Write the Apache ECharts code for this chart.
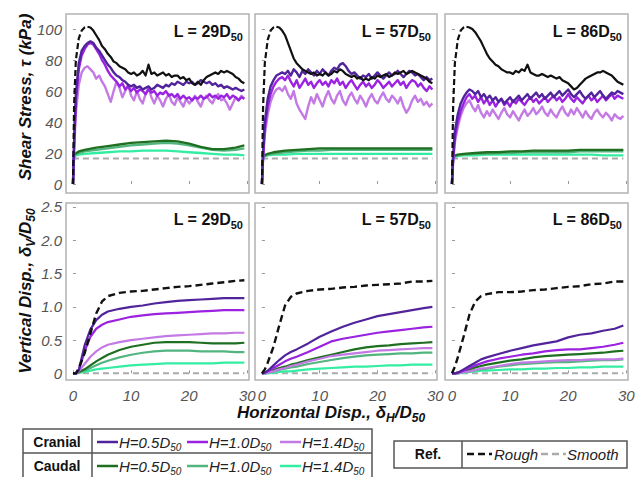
<!DOCTYPE html>
<html>
<head>
<meta charset="utf-8">
<script src="https://cdn.jsdelivr.net/npm/echarts@6/dist/echarts.min.js"></script>
<style>
  html, body { margin: 0; padding: 0; background: #fff; }
  #chart { width: 641px; height: 477px; }
</style>
</head>
<body>
<div id="chart"></div>
<script>
// ---------- Shear stress (kPa) vs horizontal displacement ----------
const xTop = [0,0.2,0.5,1,1.5,2,2.5,3,3.5,4,4.5,5,5.5,6,6.5,7,7.5,8,8.5,9,9.5,10,10.5,11,11.5,12,12.5,13,13.5,14,14.5,15,15.5,16,16.5,17,17.5,18,18.5,19,19.5,20,20.5,21,21.5,22,22.5,23,23.5,24,24.5,25,25.5,26,26.5,27,27.5,28,28.5,29,29.5];

// L = 29 D50
const roughTau29 = [0,52,80,94,99,101,101.5, 101,99,96,93,89,87,84,82,79,78,76,75,74,72,71, 72,70,71,73,70,77,71,72,70,71, 72,70,71,69,70,70,68,69,67,68, 65,64,66,64,67,69,70,71,72,71, 73,72,73,72,71,69,68,66,65];
const cran05Tau29 = [0,28,58,78,86,89,91, 92,91,88,86,83,80,77,75,72,70,69,67,66,64,63, 64,62,63,61,62,63,61,62,64,63, 62,64,63,65,64,66,65,64,66,65, 66,64,65,67,66,65,66,64,65,63, 64,62,63,62,61,62,61,60,61];
const cran10Tau29 = [0,25,54,74,83,87,90, 91,90,87,84,80,77,73,70,68,66,63,65,61,63,60, 62,59,61,60,58,61,59,60,57,59, 58,60,57,58,56,58,55,57,55,56, 54,56,55,57,55,56,58,56,57,55, 57,56,58,55,57,56,54,56,55];
const cran14Tau29 = [0,22,46,64,72,75,76, 74,72,68,70,66,63,58,53,60,66,62,56,60,64,57, 54,60,55,52,58,62,56,52,57,54, 50,55,58,53,51,56,53,50,55,52, 54,57,53,50,55,57,54,52,56,58, 54,55,52,48,52,56,54,57,55];

// L = 57 D50
const roughTau57 = [0,50,78,93,99,101,101.5, 101,99,96,91,86,81,78,76,74,73,72,71,72,70,71, 70,72,70,71,73,72,74,73,71,70, 69,70,68,69,67,68,67,69,68,70, 69,70,71,69,70,72,71,72,73,71, 72,73,72,71,70,69,68,66,65];
const cran05Tau57 = [0,20,40,55,63,67,70, 71,72,71,73,70,74,72,69,73,71,74,72,70,73,71, 74,72,70,73,75,74,77,78,76,73, 71,72,70,68,70,69,71,68,70,72, 70,68,70,72,70,71,73,71,69,71, 73,72,70,71,69,67,69,67,68];
const cran10Tau57 = [0,18,36,50,58,63,66, 68,69,67,70,66,63,67,62,65,68,64,66,62,65,67, 64,66,63,67,65,68,64,66,62,65, 67,64,61,64,66,63,65,62,64,67, 65,62,64,66,63,65,67,64,66,62, 65,67,66,63,65,62,60,63,61];
const cran14Tau57 = [0,16,32,45,53,58,61, 62,60,63,58,55,60,52,48,45,42,50,56,52,58,54, 50,56,60,55,52,57,60,54,51,56, 59,55,52,57,54,50,55,58,54,52, 56,59,55,53,57,55,52,56,50,46, 49,54,57,53,55,51,53,50,52];

// L = 86 D50
const roughTau86 = [0,50,78,93,99,101,101.5, 101,100,98,95,92,88,84,81,79,77,76,74,73,72,72, 71,73,72,74,73,77,72,71,70,70, 71,70,69,70,69,68,69,67,66,65, 63,61,62,64,66,68,69,70,71,72, 72,73,72,71,70,68,66,65,64];
const cran05Tau86 = [0,18,34,45,52,56,59, 61,60,58,60,56,58,55,57,54,56,53,55,52,54,56, 53,55,57,54,56,58,55,57,59,56, 58,55,57,59,56,58,60,57,59,61, 58,56,58,60,57,55,57,59,56,58, 60,57,55,57,59,58,60,59,58];
const cran10Tau86 = [0,16,30,40,47,52,56, 58,55,57,53,56,52,55,51,54,50,53,55,51,53,50, 54,52,55,53,51,54,56,53,55,52, 54,56,53,55,57,54,56,53,55,58, 55,53,56,54,52,55,57,54,56,53, 55,57,54,56,58,55,57,56,55];
const cran14Tau86 = [0,14,27,37,44,49,52, 54,50,47,51,46,43,47,44,48,45,42,46,49,45,43, 47,44,41,45,48,44,46,49,45,47, 50,46,44,48,45,43,47,50,46,44, 48,45,49,46,43,47,44,42,46,48, 45,43,46,44,41,45,43,42,44];

// caudal (smoother) stress curves
const xCaudal = [0,0.2,1,2,4,6,8,10,12,14,16,18,20,22,24,26,28,29.5];
const caud05Tau29 = [0,19,21,22,23.5,24.5,25.5,26.5,27,27.5,28,27.5,26,24,22.5,22.5,23.5,25];
const caud10Tau29 = [0,19,20,21,22,23,24,25,25.5,26,26.5,26,25,23.5,22,21.5,22,23];
const caud14Tau29 = [0,18,19,19.5,20,20.5,21,21,21.5,21.5,21.5,21,20.5,20,19.5,19,19,18.5];
const caud05Tau57 = [0,18,19.5,20.5,21.5,22,22.5,23,23,23,23,23,23,23,23,23,23,23];
const caud10Tau57 = [0,18,19,19.5,20.5,21,21.5,21.5,22,22,22,22,22,22,22,22,22,22];
const caud14Tau57 = [0,17.5,18.5,19,19,19.5,19.5,19.5,19.5,19.5,19.5,19.5,19.5,19.5,19.5,19.5,19.5,19.5];
const caud05Tau86 = [0,18,19,19.5,20,20.5,20.5,21,21,21.5,21.5,21.5,21.5,22,22,22,22,22];
const caud10Tau86 = [0,17.5,18.5,19,19.5,19.5,20,20,20.5,20.5,20.5,20.5,20.5,21,21,21,21,21];
const caud14Tau86 = [0,17,18,18.5,18.5,19,19,19,19,19,19,19,19,19,19,18.5,18.5,18.5];

const xSmooth = [0, 29.5];
const smoothTau = [16.5, 16.5];

// ---------- Vertical displacement (δV/D50) ----------
const xBot = [0,0.5,1,2,3,4,5,6,8,10,12,14,16,18,20,22,24,26,28,29.5];
const roughV29  = [0,0,0.08,0.3,0.6,0.9,1.08,1.16,1.21,1.23,1.24,1.26,1.28,1.3,1.31,1.33,1.35,1.37,1.39,1.4];
const cran05V29 = [0,0,0.05,0.42,0.66,0.8,0.88,0.93,0.97,1.0,1.02,1.05,1.07,1.09,1.1,1.11,1.12,1.13,1.13,1.13];
const cran10V29 = [0,0,0.04,0.33,0.55,0.67,0.73,0.77,0.81,0.85,0.87,0.89,0.9,0.91,0.92,0.93,0.94,0.95,0.95,0.95];
const cran14V29 = [0,0,0.03,0.14,0.25,0.33,0.39,0.43,0.47,0.5,0.52,0.54,0.56,0.57,0.58,0.59,0.6,0.6,0.61,0.61];
const caud05V29 = [0,0,0.02,0.06,0.12,0.18,0.23,0.28,0.35,0.4,0.43,0.46,0.47,0.47,0.47,0.46,0.45,0.45,0.45,0.46];
const caud10V29 = [0,0,0.01,0.04,0.08,0.12,0.16,0.19,0.24,0.28,0.31,0.33,0.34,0.34,0.34,0.33,0.33,0.33,0.32,0.32];
const caud14V29 = [0,0,0.01,0.02,0.04,0.06,0.07,0.08,0.1,0.12,0.13,0.14,0.15,0.15,0.15,0.15,0.15,0.16,0.16,0.16];

const roughV57  = [0,0.06,0.16,0.4,0.72,1.02,1.15,1.2,1.24,1.26,1.27,1.29,1.3,1.32,1.33,1.34,1.35,1.38,1.38,1.39];
const cran05V57 = [0,0.01,0.04,0.12,0.2,0.27,0.32,0.36,0.45,0.55,0.63,0.7,0.76,0.81,0.86,0.89,0.92,0.95,0.98,1.0];
const cran10V57 = [0,0.01,0.03,0.08,0.13,0.18,0.22,0.25,0.32,0.4,0.48,0.52,0.55,0.58,0.61,0.63,0.65,0.67,0.69,0.7];
const cran14V57 = [0,0,0.01,0.03,0.06,0.08,0.11,0.13,0.18,0.22,0.26,0.28,0.3,0.32,0.34,0.35,0.36,0.37,0.38,0.38];
const caud05V57 = [0,0.01,0.02,0.05,0.08,0.1,0.13,0.15,0.2,0.24,0.28,0.32,0.36,0.39,0.41,0.42,0.44,0.45,0.46,0.47];
const caud10V57 = [0,0,0.01,0.03,0.05,0.07,0.09,0.1,0.14,0.17,0.2,0.23,0.25,0.27,0.28,0.29,0.3,0.3,0.31,0.31];
const caud14V57 = [0,0,0,0.01,0.02,0.03,0.03,0.04,0.06,0.07,0.08,0.09,0.1,0.1,0.11,0.12,0.12,0.13,0.13,0.13];

const roughV86  = [0,0.1,0.24,0.55,0.88,1.08,1.16,1.19,1.22,1.22,1.23,1.25,1.26,1.28,1.3,1.31,1.34,1.35,1.38,1.38];
const cran05V86 = [0,0,0.01,0.06,0.11,0.16,0.21,0.24,0.29,0.34,0.38,0.42,0.45,0.48,0.54,0.58,0.6,0.64,0.67,0.72];
const cran10V86 = [0,0,0.01,0.04,0.08,0.12,0.15,0.18,0.22,0.25,0.28,0.3,0.33,0.35,0.36,0.36,0.38,0.4,0.43,0.46];
const cran14V86 = [0,0,0,0.02,0.03,0.05,0.07,0.08,0.11,0.14,0.16,0.17,0.18,0.19,0.2,0.2,0.21,0.21,0.21,0.22];
const caud05V86 = [0,0,0.01,0.03,0.06,0.09,0.11,0.13,0.16,0.19,0.21,0.24,0.26,0.27,0.28,0.29,0.3,0.31,0.33,0.34];
const caud10V86 = [0,0,0,0.02,0.03,0.05,0.06,0.07,0.1,0.12,0.14,0.15,0.16,0.17,0.17,0.18,0.19,0.2,0.2,0.21];
const caud14V86 = [0,0,0,0.01,0.02,0.03,0.04,0.04,0.05,0.06,0.06,0.07,0.07,0.08,0.08,0.09,0.09,0.1,0.1,0.1];
const smoothV = [0, 0];

// ---------- labels and ticks ----------
const panelLabels = ['29', '57', '86'];
const xTicks = [0, 10, 20, 30];
const tauTicks = [0, 20, 40, 60, 80, 100];
const vTicks = [0, 0.5, 1, 1.5, 2, 2.5];

// ---------- styling ----------
const FONT = '"Liberation Sans", Arial, Helvetica, sans-serif';
const C = {
  c05: '#52249b', c10: '#9b22e0', c14: '#c47ae4',
  d05: '#1f6f20', d10: '#52b47f', d14: '#33eda3',
  rough: '#111111', smooth: '#aaaaaa'
};

const boxes = [
  { left: 66,  top: 14,  width: 183, height: 179 },
  { left: 255, top: 14,  width: 182, height: 179 },
  { left: 445, top: 14,  width: 183, height: 179 },
  { left: 66,  top: 203, width: 183, height: 177 },
  { left: 255, top: 203, width: 182, height: 177 },
  { left: 445, top: 203, width: 183, height: 177 }
];

const grids = boxes.map(b => ({
  left: b.left, top: b.top, width: b.width, height: b.height,
  show: true, borderColor: '#b3b3b3', borderWidth: 1.5, backgroundColor: 'transparent'
}));

const tickLabel = { fontFamily: FONT, fontStyle: 'italic', fontSize: 15, color: '#555' };

const xAxes = boxes.map((b, i) => ({
  gridIndex: i, type: 'value', min: -1.2, max: 30.3,
  axisLine: { show: false }, splitLine: { show: false },
  axisTick: { show: true, inside: true, length: 3, customValues: xTicks, lineStyle: { color: '#999' } },
  axisLabel: Object.assign({ show: i >= 3, customValues: xTicks, margin: 8 }, tickLabel)
}));

const yAxes = boxes.map((b, i) => {
  const top = i < 3;
  return {
    gridIndex: i, type: 'value',
    min: top ? -5.8 : -0.1, max: top ? 109.7 : 2.56,
    axisLine: { show: false }, splitLine: { show: false },
    axisTick: { show: true, inside: true, length: 3, customValues: top ? tauTicks : vTicks, lineStyle: { color: '#999' } },
    axisLabel: Object.assign({
      show: i === 0 || i === 3, customValues: top ? tauTicks : vTicks, margin: 4,
      formatter: v => top ? String(v) : (v === 0 ? '0' : v.toFixed(1))
    }, tickLabel)
  };
});

function line(g, xs, ys, color, width, dash) {
  const n = Math.min(xs.length, ys.length);
  const data = [];
  for (let k = 0; k < n; k++) data.push([xs[k], ys[k]]);
  return {
    type: 'line', xAxisIndex: g, yAxisIndex: g, data,
    showSymbol: false, symbol: 'none', silent: true, animation: false,
    lineStyle: { color, width, type: dash || 'solid', cap: 'butt', join: 'round' },
    itemStyle: { color }
  };
}

const series = [];
function stressPanel(g, rough, c05, c10, c14, d05, d10, d14) {
  series.push(line(g, xSmooth, smoothTau, C.smooth, 2, [6, 4]));
  series.push(line(g, xCaudal, d14, C.d14, 2.3));
  series.push(line(g, xCaudal, d10, C.d10, 2.3));
  series.push(line(g, xCaudal, d05, C.d05, 2.3));
  series.push(line(g, xTop, c14, C.c14, 2.4));
  series.push(line(g, xTop, c10, C.c10, 2.4));
  series.push(line(g, xTop, c05, C.c05, 2.4));
  // rough reference: dashed rise to the peak, then the measured trace
  series.push(line(g, xTop.slice(0, 7), rough.slice(0, 7), C.rough, 2.2, [6, 3]));
  series.push(line(g, xTop.slice(6), rough.slice(6), C.rough, 2.2));
}
function dispPanel(g, rough, c05, c10, c14, d05, d10, d14) {
  series.push(line(g, xSmooth, smoothV, C.smooth, 2, [6, 4]));
  series.push(line(g, xBot, d14, C.d14, 2.2));
  series.push(line(g, xBot, d10, C.d10, 2.2));
  series.push(line(g, xBot, d05, C.d05, 2.2));
  series.push(line(g, xBot, c14, C.c14, 2.2));
  series.push(line(g, xBot, c10, C.c10, 2.2));
  series.push(line(g, xBot, c05, C.c05, 2.2));
  series.push(line(g, xBot, rough, C.rough, 2.4, [7, 4]));
}
stressPanel(0, roughTau29, cran05Tau29, cran10Tau29, cran14Tau29, caud05Tau29, caud10Tau29, caud14Tau29);
stressPanel(1, roughTau57, cran05Tau57, cran10Tau57, cran14Tau57, caud05Tau57, caud10Tau57, caud14Tau57);
stressPanel(2, roughTau86, cran05Tau86, cran10Tau86, cran14Tau86, caud05Tau86, caud10Tau86, caud14Tau86);
dispPanel(3, roughV29, cran05V29, cran10V29, cran14V29, caud05V29, caud10V29, caud14V29);
dispPanel(4, roughV57, cran05V57, cran10V57, cran14V57, caud05V57, caud10V57, caud14V57);
dispPanel(5, roughV86, cran05V86, cran10V86, cran14V86, caud05V86, caud10V86, caud14V86);

// ---------- text and legend tables ----------
function richStyles(size, sub, weight, italic, color) {
  const base = { fontFamily: FONT, fontWeight: weight, fontStyle: italic ? 'italic' : 'normal', fill: color, color };
  return {
    m: Object.assign({ fontSize: size, lineHeight: size + 6 }, base),
    s: Object.assign({ fontSize: sub, lineHeight: sub + 2, verticalAlign: 'bottom' }, base)
  };
}
function text(x, y, str, rich, align, rotation) {
  return {
    type: 'text', x, y, rotation: rotation || 0, silent: true,
    style: { text: str, rich, align: align || 'left', verticalAlign: 'middle' }
  };
}

const graphics = [];
const titleRich = richStyles(16, 11, 'bold', false, '#111');
boxes.forEach((b, i) => {
  const y = i < 3 ? 31 : 219;
  graphics.push(text(b.left + b.width - 6, y, `{m|L = ${panelLabels[i % 3]}D}{s|50}`, titleRich, 'right'));
});

const axisRich = richStyles(17, 12, 'bold', true, '#111');
graphics.push(text(25, 97, '{m|Shear Stress, τ (kPa)}', axisRich, 'center', Math.PI / 2));
graphics.push(text(25, 291, '{m|Vertical Disp., δ}{s|V}{m|/D}{s|50}', axisRich, 'center', Math.PI / 2));
graphics.push(text(331, 412, '{m|Horizontal Disp., δ}{s|H}{m|/D}{s|50}', axisRich, 'center'));

const frame = { stroke: '#555', lineWidth: 1.5, fill: null };
function rect(x, y, w, h) { return { type: 'rect', silent: true, shape: { x, y, width: w, height: h }, style: Object.assign({}, frame) }; }
function seg(x1, y1, x2, y2, stroke, lw, dash) {
  return { type: 'line', silent: true, shape: { x1, y1, x2, y2 }, style: { stroke, lineWidth: lw, lineDash: dash || null } };
}

// cranial / caudal table
const hdrRich = richStyles(14, 10, 'bold', false, '#111');
const itemRich = richStyles(15, 10, 'normal', true, '#222');
graphics.push(rect(23, 429, 349, 62));
graphics.push(seg(23, 453, 372, 453, '#555', 1.5));
graphics.push(seg(92, 429, 92, 491, '#555', 1.5));
const rows = [
  { name: 'Cranial', y: 442, cols: [C.c05, C.c10, C.c14] },
  { name: 'Caudal',  y: 466, cols: [C.d05, C.d10, C.d14] }
];
const hLabels = ['0.5', '1.0', '1.4'];
const sampleX = [97, 187, 280];
rows.forEach(r => {
  graphics.push(text(57, r.y, `{m|${r.name}}`, hdrRich, 'center'));
  r.cols.forEach((c, k) => {
    graphics.push(seg(sampleX[k], r.y, sampleX[k] + 21, r.y, c, 2.5));
    graphics.push(text(sampleX[k] + 22, r.y, `{m|H=${hLabels[k]}D}{s|50}`, itemRich, 'left'));
  });
});

// reference table
graphics.push(rect(394, 441, 233, 27));
graphics.push(seg(462, 441, 462, 468, '#555', 1.5));
graphics.push(text(428, 454, '{m|Ref.}', hdrRich, 'center'));
graphics.push(seg(467, 454, 492, 454, C.rough, 2.5, [7, 4]));
graphics.push(text(494, 454, '{m|Rough}', itemRich, 'left'));
graphics.push(seg(541, 454, 566, 454, C.smooth, 2.5, [7, 4]));
graphics.push(text(567, 454, '{m|Smooth}', itemRich, 'left'));

const chart = echarts.init(document.getElementById('chart'), null, { renderer: 'svg' });
chart.setOption({
  animation: false,
  backgroundColor: '#ffffff',
  grid: grids,
  xAxis: xAxes,
  yAxis: yAxes,
  series,
  graphic: { elements: graphics }
});
</script>
</body>
</html>
